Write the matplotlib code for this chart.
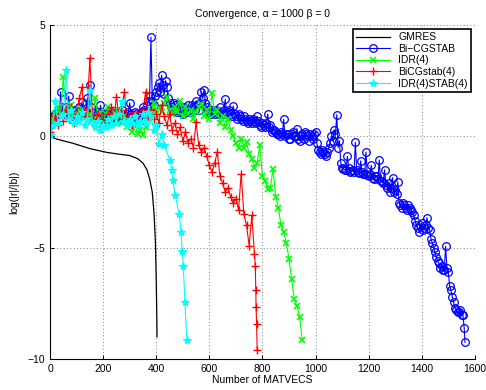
import matplotlib
matplotlib.use("Agg")
import matplotlib.pyplot as plt

plt.rcParams["font.family"] = ["Liberation Sans", "DejaVu Sans"]
plt.rcParams["font.size"] = 7.5

# GMRES (smooth)
gmres_x = [0, 25, 50, 86, 150, 214, 260, 300, 330, 350, 365, 375, 385, 392, 397, 400, 402, 403]
gmres_y = [0, -0.12, -0.2, -0.31, -0.55, -0.72, -0.8, -0.86, -1.0, -1.2, -1.5, -1.9, -2.5, -3.5, -4.8, -6.5, -8.0, -9.0]

# Bi-CGSTAB, read on two interleaved grids
bicg_x = list(range(0, 1570, 10)) + [1563]
bicg_y = [0.5, 0.8, 1.0, 1.2, 2.0, 1.1, 1.3, 1.8, 1.0, 1.2,
          0.9, 1.3, 1.55, 1.0, 1.7, 2.3, 1.1, 0.9, 1.0, 1.4,
          0.8, 1.0, 0.9, 1.1, 0.8, 1.0, 0.9, 1.2, 0.8, 1.0,
          1.5, 0.9, 1.1, 0.8, 1.0, 1.3, 1.0, 1.6, 4.45, 1.4,
          2.0, 2.4, 2.75, 1.9, 2.2, 1.5, 1.2, 1.4, 1.1, 1.3,
          1.0, 1.2, 1.4, 1.1, 1.3, 1.6, 1.2, 2.0, 2.1, 1.3,
          1.1, 1.2, 1.0, 1.1, 1.3, 1.0, 1.66, 1.1, 1.0, 1.36,
          0.9, 1.0, 0.8, 0.9, 0.7, 0.8, 0.6, 0.7, 0.9, 0.5,
          0.6, 0.4, 1.0, 0.5, 0.3, 0.2, 0.1, 0.2, 0.77, 0.1,
          -0.1, 0.1, 0.0, 0.35, -0.2, 0.1, 0.2, 0.0, 0.1, -0.1,
          0.2, -0.6, -0.8, -0.7, -0.9, -0.5, 0.0, 0.3, 0.97, -0.2,
          -1.4, -1.5, -0.9, -1.6, -1.5, -0.27, -1.6, -1.1, -1.7, -0.7,
          -1.8, -1.3, -1.9, -1.8, -1.06, -2.0, -1.5, -2.3, -2.5, -1.85,
          -2.4, -2.05, -3.1, -3.0, -3.2, -3.1, -3.3, -3.55, -4.0, -4.3,
          -3.9, -4.1, -3.65, -4.2, -4.8, -5.2, -5.6, -5.9, -6.0, -4.94,
          -6.1, -6.9, -7.45, -7.8, -7.9, -8.0, -8.6, -9.25]
bicg_mid_x = list(range(5, 1560, 10))
bicg_mid_y = [0.6, 0.9, 1.1, 1.0, 1.3, 1.0, 1.1, 1.2, 0.9, 1.0,
              1.1, 0.9, 1.2, 1.1, 1.0, 1.3, 1.0, 1.1, 0.9, 1.0,
              0.9, 1.1, 0.8, 1.0, 0.9, 1.1, 0.8, 1.0, 0.9, 1.1,
              1.0, 0.8, 1.0, 0.9, 1.1, 1.2, 1.4, 1.8, 1.6, 1.8,
              2.2, 2.0, 2.3, 2.5, 1.7, 1.3, 1.5, 1.2, 1.4, 1.1,
              1.3, 1.1, 1.2, 1.4, 1.2, 1.4, 1.5, 1.7, 1.5, 1.2,
              1.0, 1.1, 1.2, 1.0, 1.1, 1.2, 1.0, 1.2, 0.9, 1.0,
              0.8, 0.9, 0.7, 0.8, 0.6, 0.7, 0.8, 0.6, 0.7, 0.4,
              0.5, 0.6, 0.4, 0.2, 0.3, 0.1, 0.0, 0.1, 0.0, 0.1,
              -0.1, 0.2, 0.0, -0.1, 0.0, -0.1, 0.1, -0.2, 0.0, 0.1,
              -0.3, -0.7, -0.6, -0.8, -0.7, -0.3, -0.2, 0.1, -0.5, -1.2,
              -1.45, -1.5, -1.4, -1.55, -1.6, -1.5, -1.65, -1.6, -1.7, -1.75,
              -1.7, -1.85, -1.8, -1.9, -2.0, -2.1, -2.2, -2.1, -2.3, -2.5,
              -2.6, -3.0, -3.2, -3.1, -3.3, -3.2, -3.4, -3.8, -4.1, -4.0,
              -4.2, -4.0, -4.1, -4.6, -5.0, -5.4, -5.7, -5.8, -6.0, -5.9,
              -6.7, -7.2, -7.7, -7.9, -7.8, -8.0]

# IDR(4)
idr_x = list(range(0, 960, 10))
idr_y = [0.3, 0.8, 1.0, 1.3, 1.0, 2.66, 1.2, 0.9, 1.4, 1.0,
         0.8, 1.2, 0.9, 1.1, 0.7, 1.0, 0.8, 1.7, 0.9, 1.1,
         0.7, 1.0, 1.3, 0.8, 1.1, 0.9, 1.2, 0.6, 0.9, 0.4,
         0.6, 0.2, 0.5, 0.1, 0.3, 0.05, 0.4, 0.8, 1.2, 1.5,
         1.0, 1.3, 1.1, 1.5, 1.77, 1.2, 1.0, 1.3, 1.1, 1.6,
         0.9, 1.3, 1.0, 1.2, 0.8, 1.1, 1.3, 1.45, 0.9, 1.2,
         0.8, 1.93, 1.0, 1.2, 0.6, 0.9, 0.4, 0.8, 0.3, 0.0,
         -0.3, -0.5, -0.1, -0.5, -0.25, -0.8, -1.0, -1.4, -1.2, -0.4,
         -1.8, -2.0, -2.35, -2.3, -1.45, -2.7, -3.2, -4.0, -4.3, -4.8,
         -5.5, -6.4, -7.3, -7.6, -8.1, -9.16]

# BiCGstab(4)
bicgl_x = list(range(0, 780, 10)) + [773, 775, 776, 778, 780]
bicgl_y = [0.2, 0.6, 0.9, 0.5, 1.0, 0.7, 1.2, 0.8, 1.3, 0.6,
           1.0, 1.7, 2.2, 0.9, 1.2, 3.53, 0.8, 0.6, 1.0, 0.4,
           0.8, 0.5, 1.0, 1.3, 0.7, 1.77, 0.9, 1.2, 2.0, 0.6,
           0.9, 0.5, 1.1, 0.8, 0.6, 1.2, 2.0, 0.9, 1.2, 0.8,
           1.0, 0.6, 1.4, 0.9, 0.5, 1.0, 0.3, 0.6, 0.1, 0.4,
           -0.2, 0.2, -0.3, -0.1, -0.5, 0.64, -0.4, -0.7, -0.5, -0.9,
           -1.3, -1.6, -1.2, -0.7, -1.8, -2.1, -2.5, -2.3, -2.7, -3.0,
           -2.8, -3.3, -1.67, -3.5, -4.0, -4.9, -3.55, -5.3,
           -5.8, -6.9, -7.67, -8.4, -9.6]

# IDR(4)STAB(4)
idrs_x = list(range(0, 440, 10)) + [452, 458, 462, 471, 487, 493, 498, 502, 508, 515]
idrs_y = [0.04, 0.5, 1.6, 0.6, 0.9, 1.0, 2.96, 0.8, 1.2, 0.6,
          0.9, 0.7, 1.1, 0.5, 0.8, 2.07, 0.6, 0.4, 0.7, 0.3,
          0.5, 0.4, 0.8, 0.5, 0.9, 0.6, 1.0, 1.6, 0.7, 0.5,
          0.8, 0.6, 0.9, 0.5, 0.7, 1.0, 0.6, 1.1, 0.9, 0.3,
          0.5, -0.36, 0.1, -0.4,
          -1.08, -1.5, -1.95, -2.65, -3.5, -4.27, -5.16, -5.84, -7.44, -9.16]

bicg = sorted(zip(bicg_x + bicg_mid_x, bicg_y + bicg_mid_y))

fig = plt.figure(figsize=(4.86, 3.9), dpi=100)
ax = fig.add_axes([0.103, 0.079, 0.874, 0.857])

ax.plot(gmres_x, gmres_y, color="k", lw=0.9, label="GMRES")
ax.plot([p[0] for p in bicg], [p[1] for p in bicg], color="b", lw=0.8, marker="o", ms=5.5,
        mfc="none", mew=0.9, label="Bi\u2212CGSTAB")
ax.plot(idr_x, idr_y, color="#00ff00", lw=0.8, marker="x", ms=4.5, mew=1.2, label="IDR(4)")
ax.plot(bicgl_x, bicgl_y, color="r", lw=0.8, marker="+", ms=6, mew=1.0, label="BiCGstab(4)")
ax.plot(idrs_x, idrs_y, color="#00ffff", lw=0.8, marker="*", ms=6, mew=0.8, label="IDR(4)STAB(4)")

ax.set_xlim(0, 1600)
ax.set_ylim(-10, 5)
ax.set_xticks(range(0, 1601, 200))
ax.set_yticks([-10, -5, 0, 5])
ax.tick_params(direction="in", length=3, width=0.7)
ax.grid(True, linestyle=(0, (1, 3)), color="#555555", lw=0.6)
ax.spines["top"].set_visible(False)
ax.spines["right"].set_visible(False)

ax.set_title("Convergence, \u03b1 = 1000 \u03b2 = 0", fontsize=7.5, pad=6)
ax.set_xlabel("Number of MATVECS", labelpad=1)
ax.set_ylabel("log(|r|/|b|)", labelpad=6)

leg = ax.legend(loc="upper right", fancybox=False, framealpha=1, edgecolor="k",
                borderaxespad=0.4, handlelength=3.2, labelspacing=0.15, borderpad=0.3)
leg.get_frame().set_linewidth(1.2)

fig.savefig("out.png")
